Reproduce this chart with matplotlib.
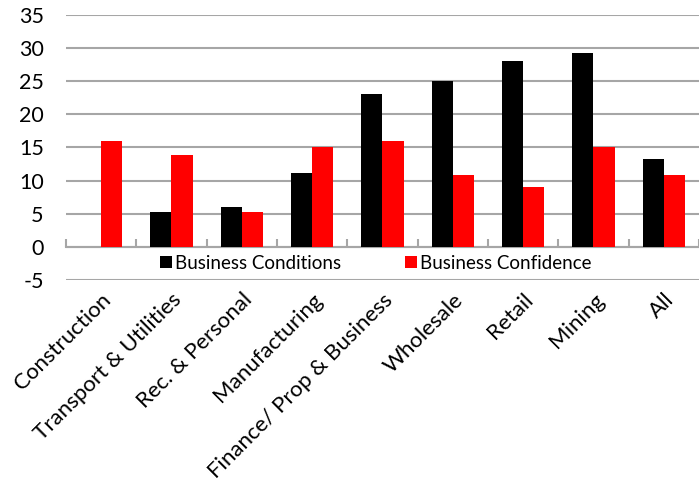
import numpy as np
import matplotlib
matplotlib.use("Agg")
from matplotlib import pyplot as plt

plt.rcParams['font.family'] = ['Lato', 'DejaVu Sans']

categories = ["Construction", "Transport & Utilities", "Rec. & Personal",
              "Manufacturing", "Finance/ Prop & Business", "Wholesale",
              "Retail", "Mining", "All"]
conditions = [0, 5.2, 6.0, 11.1, 23.1, 25.0, 28.0, 29.2, 13.2]
confidence = [15.9, 13.8, 5.2, 15.1, 15.9, 10.8, 9.0, 15.1, 10.8]
yticks = [-5, 0, 5, 10, 15, 20, 25, 30, 35]

grid_col = "#a6a6a6"
x = np.arange(len(categories))
w = 0.3

fig = plt.figure(figsize=(6.99, 4.83), dpi=100)
ax = fig.add_axes([0.0944, 0.4203, 0.9056, 0.5493])

ax.bar(x - w/2, conditions, w, color="black", label="Business Conditions", zorder=3)
ax.bar(x + w/2, confidence, w, color="#ff0000", label="Business Confidence", zorder=3)

ax.set_xlim(-0.5, len(categories) - 0.5)
ax.set_ylim(-5, 35)
ax.set_yticks(yticks)
ax.set_yticklabels([str(v) for v in yticks], fontsize=15.5)
ax.tick_params(axis='y', length=0, pad=16)
ax.yaxis.grid(True, color=grid_col, lw=1.5, zorder=0)
for s in ax.spines.values():
    s.set_visible(False)

ax.set_xticks(x)
ax.set_xticklabels(categories, rotation=45, ha='right', rotation_mode='anchor',
                   fontsize=16)
ax.tick_params(axis='x', length=0, pad=7)

# zero axis with category boundary ticks
zax = ax.secondary_xaxis(0, transform=ax.transData)
zax.set_xticks(np.arange(len(categories) + 1) - 0.5)
zax.set_xticklabels([])
zax.tick_params(axis='x', direction='in', length=6, width=1.5, color=grid_col)
zax.spines['bottom'].set_color(grid_col)
zax.spines['bottom'].set_linewidth(1.5)

ax.legend(loc='center', bbox_to_anchor=(0.49, 0.0625), ncol=2, frameon=False,
          fontsize=13.5, handlelength=0.6, handleheight=0.6, handletextpad=0.2,
          columnspacing=3.4, borderaxespad=0)

fig.savefig("out.png", dpi=100)
